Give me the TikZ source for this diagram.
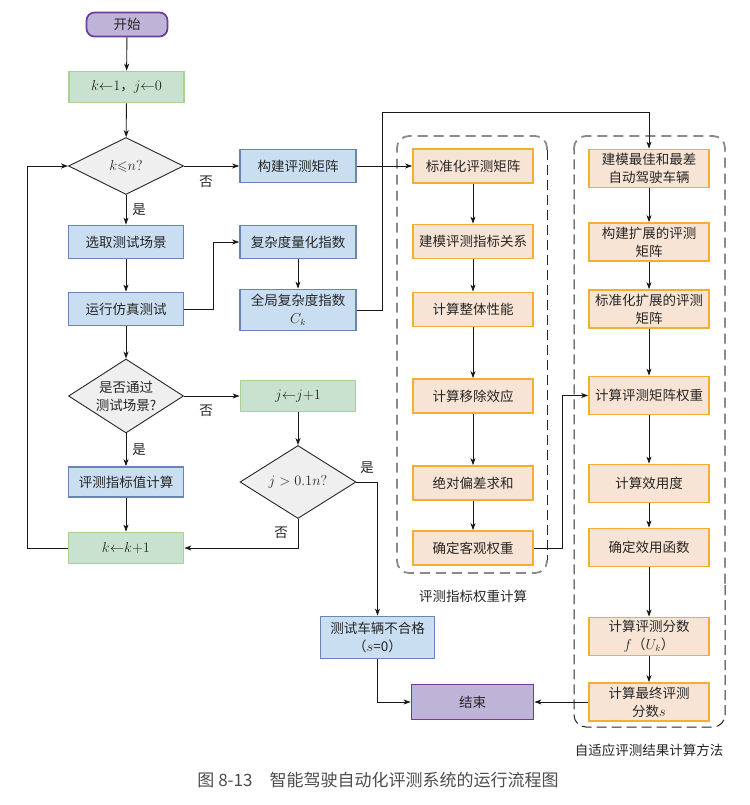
\documentclass[tikz,border=0pt]{standalone}
\usepackage{amsmath,amssymb}
\usepackage{fontspec}
\setmainfont{Noto Sans CJK SC}
\usetikzlibrary{shapes.geometric,arrows.meta,calc}
\definecolor{pfill}{HTML}{BDB4D7}
\definecolor{pdraw}{HTML}{6C3E9C}
\definecolor{gfill}{HTML}{C8E2CF}
\definecolor{gdraw}{HTML}{A8D392}
\definecolor{bfill}{HTML}{C9DEF1}
\definecolor{bdraw}{HTML}{6885B5}
\definecolor{ofill}{HTML}{F8E4D5}
\definecolor{odraw}{HTML}{F5AE33}
\definecolor{dfill}{HTML}{EFEFEF}
\definecolor{dashgray}{HTML}{8A8A8A}
\begin{document}
\begin{tikzpicture}[x=1pt,y=-1pt,
 box/.style={draw, line width=1.7pt, align=center, inner sep=0pt, font=\fontsize{13.5}{18}\selectfont, text=black!85},
 pbox/.style={box, draw=pdraw, fill=pfill},
 gbox/.style={box, draw=gdraw, fill=gfill, minimum width=115pt, minimum height=31pt},
 bbox/.style={box, draw=bdraw, fill=bfill, minimum width=115pt, minimum height=33pt},
 obox/.style={box, draw=odraw, fill=ofill, minimum width=120pt, minimum height=34pt},
 robox/.style={obox, minimum height=38pt},
 dec/.style={diamond, draw=black!85, line width=0.9pt, fill=dfill, aspect=1.6, inner sep=0pt, align=center, font=\fontsize{13.5}{18}\selectfont, text=black!85},
 arr/.style={draw=black!90, line width=0.9pt, -{Stealth[length=7pt,width=5pt,inset=2pt]}},
 lbl/.style={font=\fontsize{13.5}{16}\selectfont, inner sep=0pt, text=black!85},
 gdash/.style={draw=dashgray, line width=1.8pt, dash pattern=on 10pt off 6pt, rounded corners=12pt},
 kdash/.style={draw=black!85, line width=1pt, dash pattern=on 10pt off 5pt, rounded corners=12pt},
]
\useasboundingbox (0,0) rectangle (749,805);
\fill[white] (0,0) rectangle (749,805);

% dashed group frames
\draw[gdash] (547,150) -- (547,136) -- (397,136) -- (397,573) -- (547,573) -- (547,560);
\draw[kdash] (547,150) -- (547,560);
\draw[gdash] (574,150) -- (574,136) -- (725,136) -- (725,585);
\draw[kdash] (725,585) -- (725,727) -- (574,727) -- (574,150);

% left column
\node[pbox, rounded corners=8pt, minimum width=81pt, minimum height=24pt] (start) at (127,24.5) {开始};
\node[gbox] (init) at (126.5,87) {$k{\leftarrow}1$，$j{\leftarrow}0$};
\node[dec, minimum width=115pt, minimum height=57pt] (d1) at (126,166) {$k{\leqslant}n?$};
\node[bbox] (sel) at (126,242) {选取测试场景};
\node[bbox] (run) at (126,309) {运行仿真测试};
\node[dec, minimum width=115pt, minimum height=74pt] (d2) at (126,396) {是否通过\\测试场景?};
\node[bbox, minimum height=30pt] (eval) at (126,482) {评测指标值计算};
\node[gbox] (kinc) at (126,548) {$k{\leftarrow}k{+}1$};

% middle column
\node[bbox, minimum width=116pt] (build) at (298,166) {构建评测矩阵};
\node[bbox, minimum width=116pt] (cx) at (298,242) {复杂度量化指数};
\node[bbox, minimum width=116pt, minimum height=41pt] (gc) at (298,310) {全局复杂度指数\\$C_k$};
\node[gbox] (jinc) at (298,396) {$j{\leftarrow}j{+}1$};
\node[dec, minimum width=116pt, minimum height=73pt] (d3) at (298,482) {$j>0.1n?$};
\node[bbox, minimum width=114pt, minimum height=42pt] (fail) at (377.5,637.5) {测试车辆不合格\\（$s$=0）};
\node[pbox, minimum width=122pt, minimum height=35pt] (end) at (472.5,702) {结束};

% left orange column
\node[obox] (L1) at (473,166) {标准化评测矩阵};
\node[obox] (L2) at (473,241.5) {建模评测指标关系};
\node[obox] (L3) at (473,309.5) {计算整体性能};
\node[obox] (L4) at (473,396) {计算移除效应};
\node[obox] (L5) at (473,483) {绝对偏差求和};
\node[obox] (L6) at (473,548) {确定客观权重};

% right orange column
\node[robox] (R1) at (649,168.5) {建模最佳和最差\\自动驾驶车辆};
\node[robox] (R2) at (649,242) {构建扩展的评测\\矩阵};
\node[robox] (R3) at (649,309) {标准化扩展的评测\\矩阵};
\node[robox] (R4) at (649,395.5) {计算评测矩阵权重};
\node[robox] (R5) at (649,483.5) {计算效用度};
\node[robox] (R6) at (649,547.5) {确定效用函数};
\node[robox] (R7) at (649,636.5) {计算评测分数\\$f$（$U_k$）};
\node[robox] (R8) at (649,702) {计算最终评测\\分数$s$};

% group labels and caption
\node[lbl] (g1) at (473,596) {评测指标权重计算};
\node[lbl] (g2) at (649,750) {自适应评测结果计算方法};
\node[font=\fontsize{17}{20}\selectfont, text=black!70, inner sep=0pt] (cap) at (378,780) {图 8-13　智能驾驶自动化评测系统的运行流程图};

% helper coordinates
\coordinate (topbend) at (382,112);
\coordinate (loopx) at (27,548);

% connectors: left
\draw[arr] (start) -- (init);
\draw[arr] (init) -- (d1);
\draw[arr] (d1) -- (build) node[lbl, pos=0.4, below=9pt] (no1) {否};
\draw[arr] (d1) -- (sel) node[lbl, midway, right=6pt] (yes1) {是};
\draw[arr] (sel) -- (run);
\draw[arr] (run.east) -- ++(29,0) |- (cx.west);
\draw[arr] (cx) -- (gc);
\draw[arr] (gc.east) -| (topbend) -| (R1.north);
\draw[arr] (build) -- (L1);
\draw[arr] (run) -- (d2);
\draw[arr] (d2) -- (jinc) node[lbl, pos=0.4, below=8pt] (no2) {否};
\draw[arr] (d2) -- (eval) node[lbl, midway, right=6pt] (yes2) {是};
\draw[arr] (eval) -- (kinc);
\draw[arr] (jinc) -- (d3);
\draw[arr] (d3.east) -| (fail.north);
\node[lbl] (yes3) at (367,468) {是};
\draw[arr] (d3.south) |- (kinc.east);
\node[lbl] (no3) at (281,533) {否};
\draw[arr] (kinc.west) -- (loopx) |- (d1.west);
\draw[arr] (fail.south) |- (end.west);

% orange left column
\draw[arr] (L1) -- (L2);
\draw[arr] (L2) -- (L3);
\draw[arr] (L3) -- (L4);
\draw[arr] (L4) -- (L5);
\draw[arr] (L5) -- (L6);
\draw[arr] (L6.east) -- ++(29,0) |- (R4.west);

% orange right column
\draw[arr] (R1) -- (R2);
\draw[arr] (R2) -- (R3);
\draw[arr] (R3) -- (R4);
\draw[arr] (R4) -- (R5);
\draw[arr] (R5) -- (R6);
\draw[arr] (R6) -- (R7);
\draw[arr] (R7) -- (R8);
\draw[arr] (R8) -- (end);
\end{tikzpicture}
\end{document}
